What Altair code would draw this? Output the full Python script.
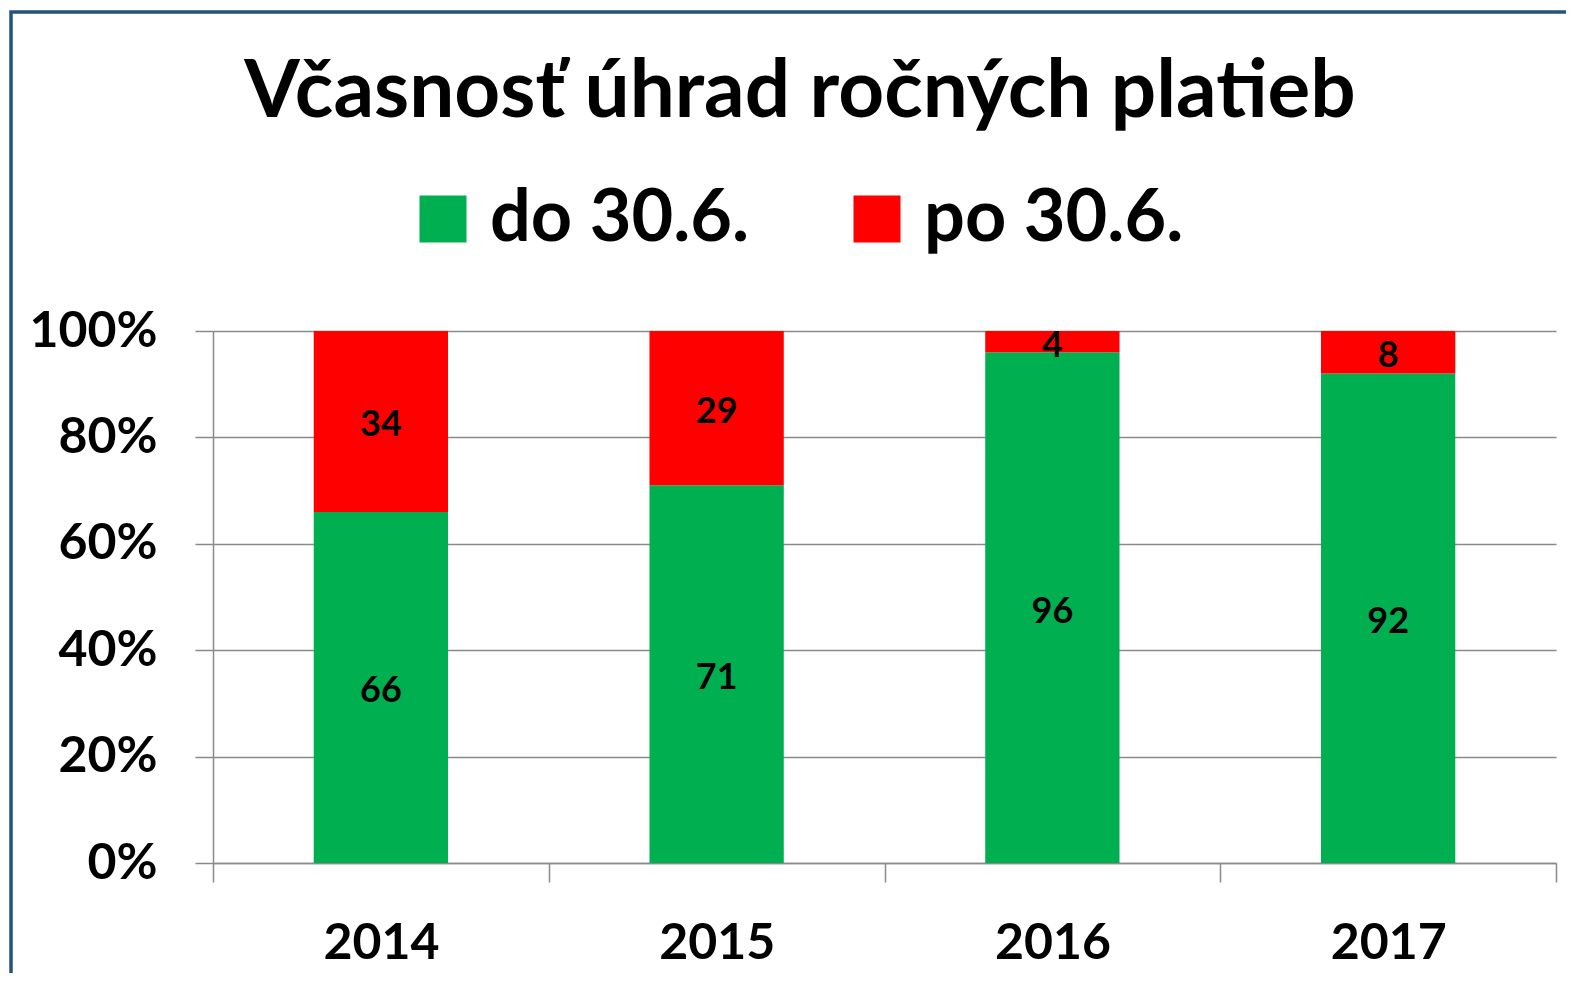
import altair as alt
import pandas as pd

TITLE = "Včasnosť úhrad ročných platieb"
YEARS = ["2014", "2015", "2016", "2017"]
SERIES = ["do 30.6.", "po 30.6."]
COLORS = ["#00B050", "#FF0000"]
DO_VALUES = [66, 71, 96, 92]
PO_VALUES = [34, 29, 4, 8]
Y_TICKS = [0, 0.2, 0.4, 0.6, 0.8, 1.0]

rows = []
for i, y in enumerate(YEARS):
    rows.append({"year": y, "series": SERIES[0], "value": DO_VALUES[i], "idx": 0})
    rows.append({"year": y, "series": SERIES[1], "value": PO_VALUES[i], "idx": 1})
df = pd.DataFrame(rows)

FONT = "Lato"
GRID = "#8a8a8a"

base = alt.Chart(df).transform_stack(
    stack="value",
    groupby=["year"],
    as_=["y0", "y1"],
    sort=[alt.SortField("idx", order="ascending")],
    offset="normalize",
).transform_calculate(mid="(datum.y0 + datum.y1) / 2")

x_enc = alt.X(
    "year:N",
    sort=YEARS,
    scale=alt.Scale(paddingInner=0, paddingOuter=0),
    axis=alt.Axis(
        title=None, labelAngle=0, grid=False, domain=True, domainColor=GRID,
        domainWidth=1.5, ticks=True, tickBand="extent", tickSize=19,
        tickColor=GRID, tickWidth=1.5, labelFont=FONT, labelFontSize=50,
        labelFontWeight="bold", labelColor="black", labelPadding=36,
    ),
)

bars = base.mark_bar(width=alt.RelativeBandSize(0.4)).encode(
    x=x_enc,
    y=alt.Y(
        "y0:Q",
        scale=alt.Scale(domain=[0, 1]),
        axis=alt.Axis(
            title=None, format="%", values=Y_TICKS, grid=True, gridColor=GRID,
            gridWidth=1.5, domain=True, domainColor=GRID, domainWidth=1.5,
            ticks=True, tickSize=18, tickColor=GRID, tickWidth=1.5,
            labelFont=FONT, labelFontSize=50, labelFontWeight="bold",
            labelColor="black", labelPadding=38,
        ),
    ),
    y2="y1:Q",
    color=alt.Color(
        "series:N",
        scale=alt.Scale(domain=SERIES, range=COLORS),
        legend=alt.Legend(
            orient="none", legendX=194, legendY=-148, direction="horizontal",
            title=None, symbolType="square", symbolSize=2209,
            symbolStrokeWidth=0, symbolOpacity=1, labelFontSize=72,
            labelFont=FONT, labelFontWeight="bold", labelColor="black",
            labelOffset=11, labelLimit=800, columnPadding=91, padding=0,
        ),
    ),
    order=alt.Order("idx:Q"),
)

labels = base.mark_text(
    font=FONT, fontSize=36, fontWeight="bold", color="black", baseline="middle",
    dy=4,
).encode(
    x=alt.X("year:N", sort=YEARS),
    y=alt.Y("mid:Q"),
    text=alt.Text("value:Q"),
)

title = alt.Chart(pd.DataFrame({"t": [TITLE]})).mark_text(
    font=FONT, fontSize=80, fontWeight="bold", color="black",
    baseline="alphabetic", align="center",
).encode(text="t:N", x=alt.value(587), y=alt.value(-214))

frame = alt.Chart(pd.DataFrame({"f": [1]})).mark_rect(
    filled=False, stroke="#25527f", strokeWidth=3.5
).encode(
    x=alt.value(-202), x2=alt.value(1500), y=alt.value(-319), y2=alt.value(800)
)

chart = alt.layer(frame, bars, labels, title).properties(
    width=1343,
    height=532,
    autosize=alt.AutoSizeParams(type="none"),
    padding={"left": 205, "top": 323, "right": 10, "bottom": 110},
    background="white",
).configure_view(stroke=None)

chart.save("out.html", embed_options={"renderer": "svg", "actions": False})
